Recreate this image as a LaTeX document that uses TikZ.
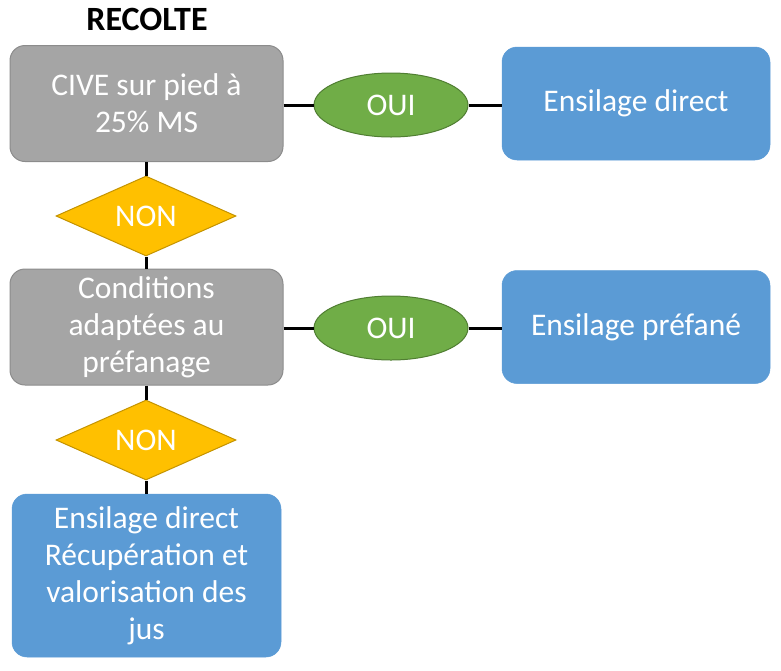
\documentclass[tikz,border=0pt]{standalone}
\usepackage{fontspec}
\setmainfont{Carlito}
\usetikzlibrary{shapes.geometric}
\definecolor{grayfill}{HTML}{A5A5A5}
\definecolor{grayline}{HTML}{8C8C8C}
\definecolor{bluefill}{HTML}{5B9BD5}
\definecolor{greenfill}{HTML}{70AD47}
\definecolor{greenline}{HTML}{507E32}
\definecolor{goldfill}{HTML}{FFC000}
\definecolor{goldline}{HTML}{C49300}
\tikzset{
  txt/.style={text=white, align=center, font=\fontsize{31.5}{37}\selectfont, inner sep=0pt},
  graybox/.style={txt, rectangle, rounded corners=15pt, fill=grayfill, draw=grayline, line width=1pt, minimum width=273pt, minimum height=116pt},
  bluebox/.style={txt, rectangle, rounded corners=15pt, fill=bluefill, draw=bluefill, line width=0.5pt, minimum width=268pt, minimum height=113pt},
  ouinode/.style={txt, ellipse, fill=greenfill, draw=greenline, line width=1pt, minimum width=154pt, minimum height=64pt},
  nonnode/.style={txt, diamond, aspect=2.25, fill=goldfill, draw=goldline, line width=1pt, minimum width=180pt, minimum height=80pt},
  link/.style={line width=3pt, black}
}
\begin{document}
\begin{tikzpicture}[x=1pt,y=-1pt]
\useasboundingbox (0,0) rectangle (781,670);
\node[font=\bfseries\fontsize{34}{40}\selectfont, inner sep=0pt] (title) at (147,19) {RECOLTE};
\node[graybox] (g1) at (146.5,103.5) {CIVE sur pied à\\25\% MS};
\node[ouinode] (o1) at (391,105) {OUI};
\node[bluebox] (b1) at (636,103.5) {Ensilage direct};
\node[nonnode] (n1) at (146,216) {NON};
\node[graybox] (g2) at (146.5,327) {Conditions\\adaptées au\\préfanage};
\node[ouinode] (o2) at (391,328) {OUI};
\node[bluebox] (b2) at (636,327) {Ensilage préfané};
\node[nonnode] (n2) at (146,440) {NON};
\node[bluebox, minimum width=269pt, minimum height=163pt] (b3) at (146.5,575.5) {Ensilage direct\\Récupération et\\valorisation des\\jus};
\draw[link] (g1.east |- o1) -- (o1.west);
\draw[link] (o1.east) -- (b1.west |- o1);
\draw[link] (g2.east |- o2) -- (o2.west);
\draw[link] (o2.east) -- (b2.west |- o2);
\draw[link] (g1.south -| n1) -- (n1.north);
\draw[link] (n1.south) -- (g2.north -| n1);
\draw[link] (g2.south -| n2) -- (n2.north);
\draw[link] (n2.south) -- (b3.north -| n2);
\end{tikzpicture}
\end{document}
